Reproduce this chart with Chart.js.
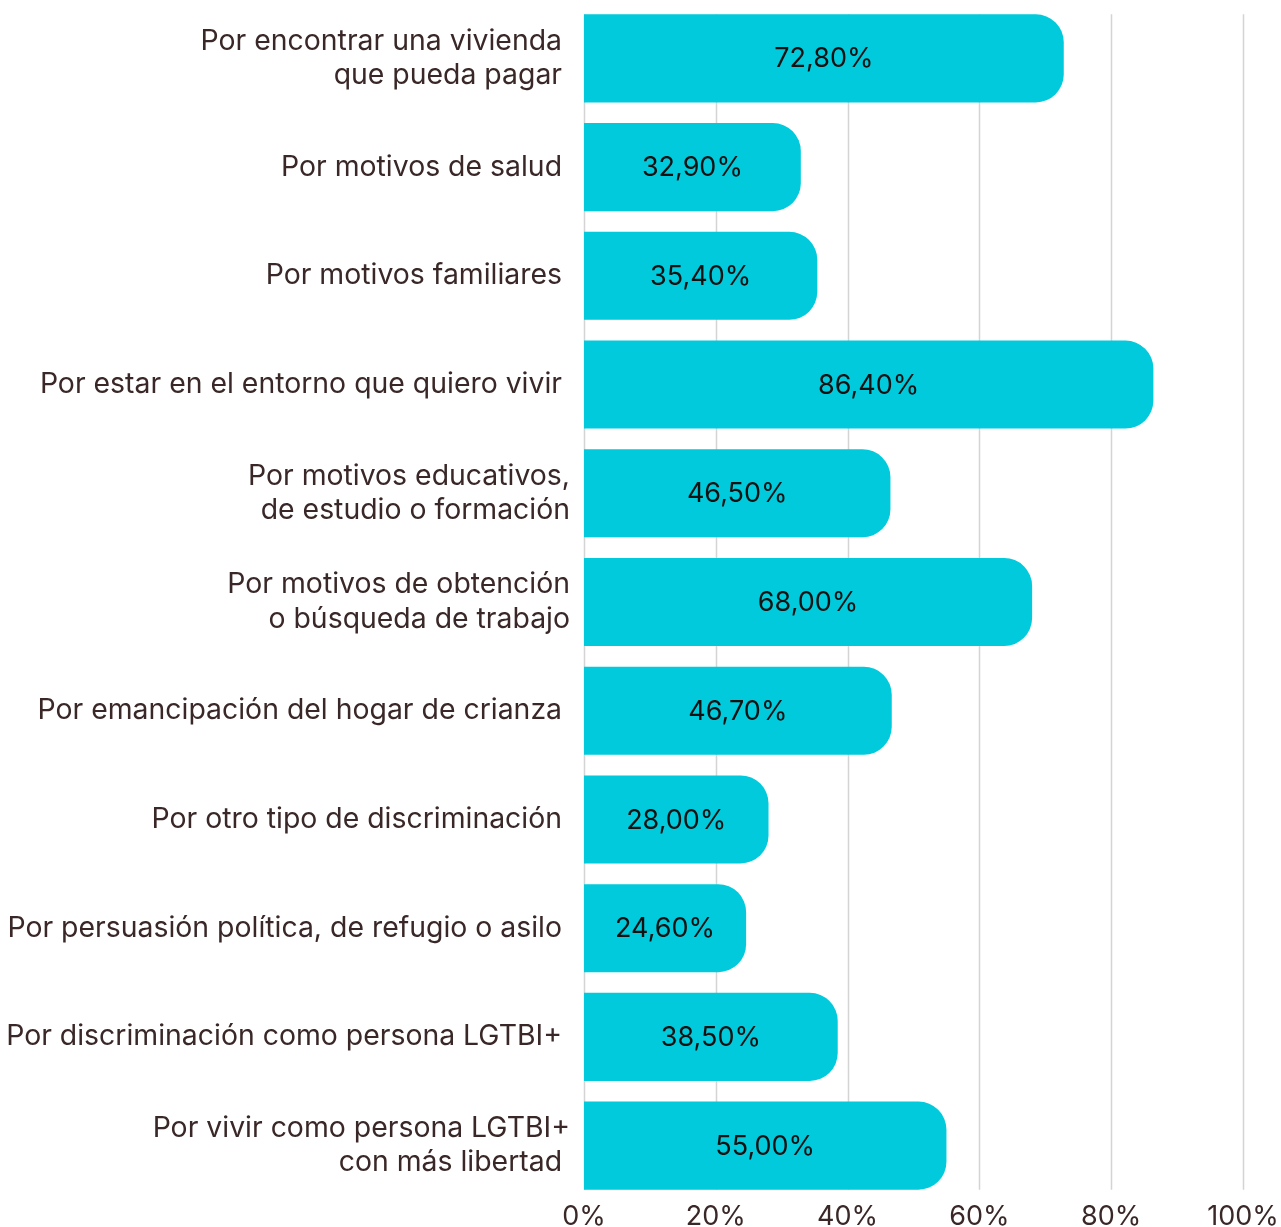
<!DOCTYPE html>
<html>
<head>
<meta charset="utf-8">
<script src="https://cdn.jsdelivr.net/npm/chart.js@4"></script>
<style>
html,body{margin:0;padding:0;background:#fff;}
#wrap{width:1281px;height:1227px;}
</style>
</head>
<body>
<div id="wrap"><canvas id="chart"></canvas></div>
<script>
const categories=[
  ["Por encontrar una vivienda ","que pueda pagar "],
  "Por motivos de salud ",
  "Por motivos familiares ",
  "Por estar en el entorno que quiero vivir ",
  ["Por motivos educativos,","de estudio o formación"],
  ["Por motivos de obtención","o búsqueda de trabajo"],
  "Por emancipación del hogar de crianza ",
  "Por otro tipo de discriminación ",
  "Por persuasión política, de refugio o asilo ",
  "Por discriminación como persona LGTBI+ ",
  ["Por vivir como persona LGTBI+","con más libertad "]
];
const values=[72.8,32.9,35.4,86.4,46.5,68.0,46.7,28.0,24.6,38.5,55.0];
const xTicks=[0,20,40,60,80,100];

const FONT="Inter, 'Open Sans', sans-serif";
const textColor="#3a2828";
const gridColor="#d4d4d4";

// gridlines only span from the first bar's top to the last bar's bottom
const gridPlugin={
  id:"grid",
  beforeDatasetsDraw(chart){
    const ctx=chart.ctx;
    const x=chart.scales.x;
    const bars=chart.getDatasetMeta(0).data;
    const first=bars[0],last=bars[bars.length-1];
    const top=first.y-first.height/2;
    const bottom=last.y+last.height/2;
    ctx.save();
    ctx.strokeStyle=gridColor;
    ctx.lineWidth=1.5;
    xTicks.forEach(t=>{
      const px=Math.round(x.getPixelForValue(t))+0.5;
      ctx.beginPath();
      ctx.moveTo(px,top);
      ctx.lineTo(px,bottom);
      ctx.stroke();
    });
    ctx.restore();
  }
};

const valueLabels={
  id:"valueLabels",
  afterDatasetsDraw(chart){
    const ctx=chart.ctx;
    const meta=chart.getDatasetMeta(0);
    ctx.save();
    ctx.font="27px "+FONT;
    ctx.fillStyle="#111111";
    ctx.textAlign="center";
    ctx.textBaseline="middle";
    meta.data.forEach((bar,i)=>{
      const cx=(bar.base+bar.x)/2;
      ctx.fillText(values[i].toFixed(2).replace(".",",")+"%",cx,bar.y+1);
    });
    ctx.restore();
  }
};

new Chart(document.getElementById("chart"),{
  type:"bar",
  data:{
    labels:categories,
    datasets:[{
      data:values,
      backgroundColor:"#00cadb",
      borderRadius:{topLeft:0,bottomLeft:0,topRight:28,bottomRight:28},
      borderSkipped:false,
      categoryPercentage:1,
      barPercentage:0.81
    }]
  },
  options:{
    indexAxis:"y",
    responsive:true,
    maintainAspectRatio:false,
    animation:false,
    layout:{padding:{top:4,right:38,left:0,bottom:0}},
    plugins:{legend:{display:false},tooltip:{enabled:false}},
    scales:{
      x:{
        min:0,max:100,
        afterBuildTicks(s){s.ticks=xTicks.map(v=>({value:v}));},
        afterFit(s){s.height=27;s.paddingLeft=0;s.paddingRight=0;},
        grid:{display:false,drawTicks:false},
        border:{display:false},
        ticks:{
          padding:1,
          color:textColor,
          font:{family:FONT,size:27},
          callback:v=>v+"%"
        }
      },
      y:{
        afterFit(s){s.width=584;s.paddingTop=0;s.paddingBottom=0;},
        grid:{display:false,drawTicks:false},
        border:{display:false},
        ticks:{
          padding:14,
          color:textColor,
          font:{family:FONT,size:28.4,lineHeight:1.2}
        }
      }
    }
  },
  plugins:[gridPlugin,valueLabels]
});
</script>
</body>
</html>
